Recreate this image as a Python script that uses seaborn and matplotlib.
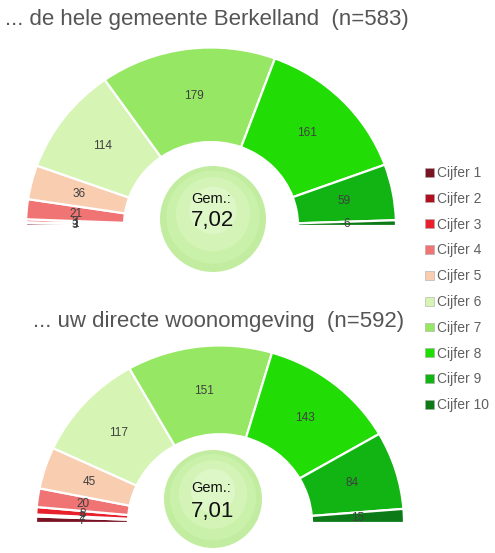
import numpy as np
import matplotlib
matplotlib.use("Agg")
import matplotlib.pyplot as plt
import matplotlib.patches as mpatches
import seaborn as sns

# ── Data ──────────────────────────────────────────────────────
CATEGORIES = [f"Cijfer {i}" for i in range(1, 11)]
COUNTS_GEMEENTE = [3, 1, 3, 21, 36, 114, 179, 161, 59, 6]
COUNTS_WOON = [7, 2, 8, 20, 45, 117, 151, 143, 84, 15]
TITLES = ["... de hele gemeente Berkelland  (n=583)",
          "... uw directe woonomgeving  (n=592)"]
MEANS = ["7,02", "7,01"]

COLORS = ["#7a1424", "#b0101e", "#e8202c", "#f07474", "#f8cdb0",
          "#d6f5b4", "#96e864", "#22dc06", "#12b414", "#0c7a16"]
TEXT_COL = "#404040"

sns.set_theme(style="white")
plt.rcParams["font.family"] = ["Liberation Sans", "DejaVu Sans"]

W, H = 495, 553
K = 0.965  # gauges are slightly squashed vertically


def py(y):
    # pixel row (from top) -> data y
    return (H - y) / K


fig = plt.figure(figsize=(W / 100, H / 100), dpi=100)
ax = fig.add_axes([0, 0, 1, 1])


def gauge(ax, counts, center, r_out, r_in):
    total = sum(counts)
    vals = counts + [total]
    cols = COLORS + ["none"]
    wedges, _, autotexts = ax.pie(
        vals, colors=cols, startangle=180, counterclock=False,
        center=center, radius=r_out,
        autopct=lambda p: f"{round(p * 2 * total / 100):d}",
        pctdistance=(r_out + r_in) / 2 / r_out,
        wedgeprops=dict(width=r_out - r_in, edgecolor="white", linewidth=1.6),
        textprops=dict(color=TEXT_COL, fontsize=8.5),
    )
    wedges[-1].set_edgecolor("none")
    autotexts[-1].set_visible(False)
    return wedges


def bubble(ax, x, y, r, y_lab, y_val, mean):
    for k, (f, c) in enumerate([(1.0, "#c2eda0"), (0.88, "#caf1a9"),
                                 (0.7, "#d3f4b6"), (0.45, "#ddf7c6")]):
        ax.add_patch(mpatches.Ellipse((x, py(y - r * (1 - f) * 0.3)),
                                      2 * r * f, 2 * r * f / K,
                                      facecolor=c, edgecolor="none",
                                      zorder=3 + k * 0.1))
    ax.text(x - 2, py(y_lab), "Gem.:", ha="center", va="center",
            fontsize=10.5, color="#111111", zorder=5)
    ax.text(x, py(y_val), mean, ha="center", va="center",
            fontsize=16, color="#111111", zorder=5)


# top gauge
gauge(ax, COUNTS_GEMEENTE, (211, py(226)), 185, 87)
bubble(ax, 213, 219, 53, 199, 220, MEANS[0])
ax.text(5, py(19), TITLES[0], ha="left", va="center", fontsize=16,
        color="#555555")

# bottom gauge
gauge(ax, COUNTS_WOON, (220, py(523)), 184, 92)
bubble(ax, 213, 499, 49, 488, 511, MEANS[1])
ax.text(33, py(321), TITLES[1], ha="left", va="center", fontsize=16,
        color="#555555")

ax.set_aspect("auto")
ax.set_xlim(0, W)
ax.set_ylim(0, H / K)
ax.axis("off")

handles = [mpatches.Patch(facecolor=c, edgecolor="#aaaaaa", linewidth=0.4, label=l)
           for c, l in zip(COLORS, CATEGORIES)]
fig.legend(handles=handles, loc="upper left", bbox_to_anchor=(425 / W, 1 - 166 / H),
           frameon=False, fontsize=10, labelcolor="#606060",
           handlelength=0.65, handleheight=0.6, handletextpad=0.2,
           labelspacing=0.85, borderaxespad=0, borderpad=0)

fig.savefig("out.png", dpi=100, facecolor="white")
